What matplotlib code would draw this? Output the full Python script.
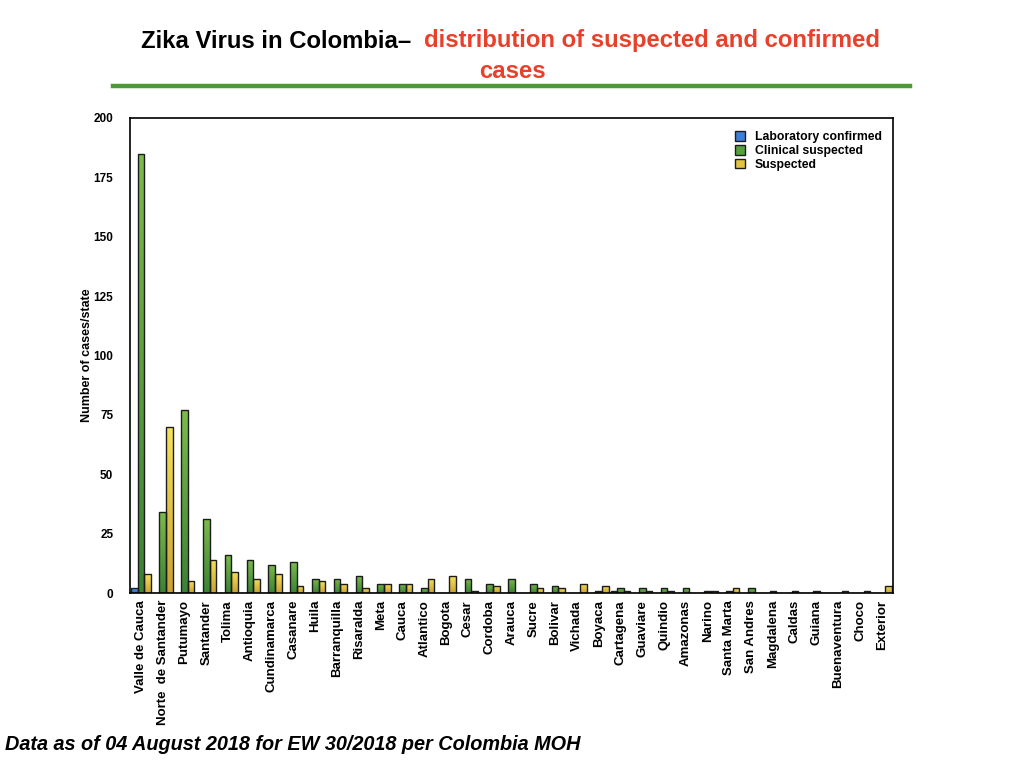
import matplotlib
matplotlib.use('Agg')
import matplotlib.pyplot as plt
import numpy as np
from matplotlib.patches import Patch
from matplotlib.lines import Line2D
from matplotlib.colors import LinearSegmentedColormap

plt.rcParams['font.family'] = ['Liberation Sans', 'DejaVu Sans']

states = ['Valle de Cauca', 'Norte  de Santander', 'Putumayo', 'Santander', 'Tolima',
          'Antioquia', 'Cundinamarca', 'Casanare', 'Huila', 'Barranquilla', 'Risaralda',
          'Meta', 'Cauca', 'Atlantico', 'Bogota', 'Cesar', 'Cordoba', 'Arauca', 'Sucre',
          'Bolivar', 'Vichada', 'Boyaca', 'Cartagena', 'Guaviare', 'Quindio', 'Amazonas',
          'Narino', 'Santa Marta', 'San Andres', 'Magdalena', 'Caldas', 'Guiana',
          'Buenaventura', 'Choco', 'Exterior']

lab_confirmed = [2, 0, 0, 0, 0, 0, 0, 0, 0, 0, 0, 0, 0, 0, 0, 0, 0, 0, 0,
                 0, 0, 0, 1, 0, 0, 0, 0, 0, 0, 0, 0, 0, 0, 0, 0]
clinical_suspected = [185, 34, 77, 31, 16, 14, 12, 13, 6, 6, 7, 4, 4, 2, 0, 6, 4, 6, 4,
                      3, 0, 1, 2, 2, 2, 2, 1, 1, 2, 1, 1, 1, 0, 0, 0]
suspected = [8, 70, 5, 14, 9, 6, 8, 3, 5, 4, 2, 4, 4, 6, 7, 1, 3, 0, 2,
             2, 4, 3, 1, 1, 1, 0, 1, 2, 0, 0, 0, 0, 1, 1, 3]

# (top colour, bottom colour) for each series
grad_blue = ('#4f93e6', '#2f6cc0')
grad_green = ('#7cba4c', '#3b8234')
grad_yellow = ('#f6e25a', '#c9a234')
edge = '#1c1c1c'


def gradient_bars(ax, bars, colors):
    cmap = LinearSegmentedColormap.from_list('g', [colors[1], colors[0]])
    grad = np.linspace(0, 1, 64).reshape(-1, 1)
    for b in bars:
        h = b.get_height()
        if h <= 0:
            continue
        x0 = b.get_x()
        im = ax.imshow(grad, cmap=cmap, origin='lower', aspect='auto',
                       extent=[x0, x0 + b.get_width(), 0, h], zorder=1.5)
        im.set_clip_path(b)
        b.set_facecolor('none')
        b.set_zorder(2)


fig = plt.figure(figsize=(10.24, 7.68), dpi=100)
ax = fig.add_axes([130 / 1024, 1 - 593 / 768, 763 / 1024, 475 / 768])

x = np.arange(len(states))
w = 0.3
b1 = ax.bar(x - w, lab_confirmed, w, color=grad_blue[0], edgecolor=edge, linewidth=1)
b2 = ax.bar(x, clinical_suspected, w, color=grad_green[0], edgecolor=edge, linewidth=1)
b3 = ax.bar(x + w, suspected, w, color=grad_yellow[0], edgecolor=edge, linewidth=1)
gradient_bars(ax, b1, grad_blue)
gradient_bars(ax, b2, grad_green)
gradient_bars(ax, b3, grad_yellow)

ax.set_xlim(-0.5, len(states) - 0.5)
ax.set_ylim(0, 200)
ax.set_yticks([0, 25, 50, 75, 100, 125, 150, 175, 200])
ax.set_xticks(x)
ax.set_xticklabels(states, rotation=90, fontsize=9.5, fontweight='bold')
ax.tick_params(axis='both', length=0)
ax.tick_params(axis='x', pad=5)
ax.tick_params(axis='y', pad=12, labelsize=8.5)
for lbl in ax.get_yticklabels():
    lbl.set_fontweight('bold')
for s in ax.spines.values():
    s.set_linewidth(1.2)
    s.set_color('black')
    s.set_zorder(3)
ax.set_ylabel('Number of cases/state', fontsize=9, fontweight='bold', labelpad=0)

handles = [Patch(facecolor='#3d7fd6', edgecolor=edge, label='Laboratory confirmed'),
           Patch(facecolor='#56a03e', edgecolor=edge, label='Clinical suspected'),
           Patch(facecolor='#e2c441', edgecolor=edge, label='Suspected')]
leg = ax.legend(handles=handles, loc='upper right', bbox_to_anchor=(1.0, 0.995), frameon=False,
                prop={'size': 8.8, 'weight': 'bold'}, handlelength=0.8, handleheight=0.8,
                handletextpad=0.8, labelspacing=0.15)

# title
fig.text(411 / 1024, 1 - 41 / 768, 'Zika Virus in Colombia\u2013', ha='right', va='center',
         fontsize=17.2, fontweight='bold', color='black')
fig.text(424 / 1024, 1 - 41 / 768, 'distribution of suspected and confirmed', ha='left',
         va='center', fontsize=17.2, fontweight='bold', color='#e8402a')
fig.text(512 / 1024, 1 - 72 / 768, 'cases', ha='center', va='center',
         fontsize=17.2, fontweight='bold', color='#e8402a')
fig.add_artist(Line2D([113 / 1024, 910 / 1024], [1 - 86 / 768, 1 - 86 / 768],
                      color='#4e9a35', linewidth=3.2, transform=fig.transFigure))

fig.text(5 / 1024, 1 - 745 / 768, 'Data as of 04 August 2018 for EW 30/2018 per Colombia MOH',
         ha='left', va='center', fontsize=14.3, fontweight='bold', fontstyle='italic')

fig.savefig('out.png', dpi=100)
